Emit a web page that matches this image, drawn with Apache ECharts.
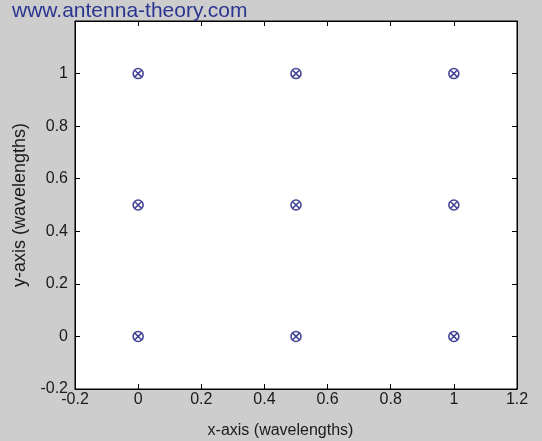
<!DOCTYPE html>
<html><head><meta charset="utf-8">
<script src="https://cdn.jsdelivr.net/npm/echarts@6/dist/echarts.min.js"></script>
<style>html,body{margin:0;padding:0;background:#cdcdcd;}#c{width:542px;height:441px;}</style>
</head><body><div id="c"></div>
<script>
const xPositions = [0, 0.5, 1, 0, 0.5, 1, 0, 0.5, 1];
const yPositions = [0, 0, 0, 0.5, 0.5, 0.5, 1, 1, 1];
const xTicks = [-0.2, 0, 0.2, 0.4, 0.6, 0.8, 1, 1.2];
const yTicks = [-0.2, 0, 0.2, 0.4, 0.6, 0.8, 1, 1.2];
const xTitle = 'x-axis (wavelengths)';
const yTitle = 'y-axis (wavelengths)';
const watermark = 'www.antenna-theory.com';

const pts = xPositions.map((x, i) => [x, yPositions[i]]);
const fmt = v => (Math.round(v * 10) / 10).toString();
const markerPath = 'path://M0,-10A10,10,0,1,1,0,10A10,10,0,1,1,0,-10ZM-7.07,-7.07L7.07,7.07M7.07,-7.07L-7.07,7.07';
const FONT = 'Liberation Sans, Arial';
const tickFont = {fontFamily: FONT, fontSize: 16, color: '#1a1a1a'};

const chart = echarts.init(document.getElementById('c'));
const baseX = {
  type: 'value', min: xTicks[0], max: xTicks[xTicks.length - 1], interval: 0.2,
  splitLine: {show: false},
  axisLine: {show: true, onZero: false, lineStyle: {color: '#000', width: 1}},
  axisTick: {show: true, inside: true, length: 5, lineStyle: {color: '#000'}},
};
const baseY = {
  type: 'value', min: yTicks[0], max: yTicks[yTicks.length - 1], interval: 0.2,
  splitLine: {show: false},
  axisLine: {show: true, onZero: false, lineStyle: {color: '#000', width: 1}},
  axisTick: {show: true, inside: true, length: 5, lineStyle: {color: '#000'}},
};
chart.setOption({
  backgroundColor: '#cdcdcd',
  animation: false,
  title: {text: watermark, left: 7, top: -4,
    textStyle: {fontFamily: FONT, fontSize: 21, fontWeight: 'normal', color: '#2a3590'}},
  grid: {left: 75, right: 25, top: 21, bottom: 52, outerBoundsMode: 'none', containLabel: false,
    show: true, backgroundColor: '#fff', borderColor: '#000', borderWidth: 1},
  xAxis: [
    Object.assign({}, baseX, {position: 'bottom',
      axisLabel: Object.assign({}, tickFont, {margin: 3, formatter: fmt}),
      name: xTitle, nameLocation: 'middle', nameGap: 34,
      nameTextStyle: {fontFamily: FONT, fontSize: 16, color: '#1a1a1a', padding: [0, 31, 0, 0]}}),
    Object.assign({}, baseX, {position: 'top', axisLabel: {show: false}})
  ],
  yAxis: [
    Object.assign({}, baseY, {position: 'left',
      axisLabel: Object.assign({}, tickFont, {margin: 7, formatter: fmt, showMaxLabel: false}),
      name: yTitle, nameLocation: 'middle', nameGap: 44,
      nameTextStyle: {fontFamily: FONT, fontSize: 18, color: '#1a1a1a'}}),
    Object.assign({}, baseY, {position: 'right', axisLabel: {show: false}})
  ],
  series: [{
    type: 'scatter', data: pts, symbol: markerPath, symbolSize: 10,
    itemStyle: {color: 'rgba(0,0,0,0)', borderColor: '#16167a', borderWidth: 1.6}
  }]
});
</script></body></html>
